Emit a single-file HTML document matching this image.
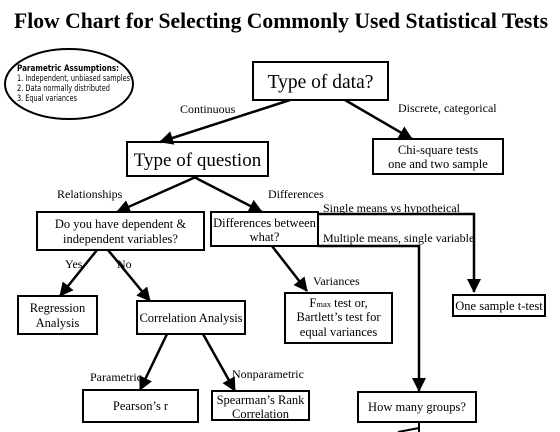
<!DOCTYPE html>
<html><head><meta charset="utf-8"><style>
html,body{margin:0;padding:0;background:#fff}
svg{display:block}
text{font-family:"Liberation Serif",serif;fill:#000}
.s{font-family:"DejaVu Sans","Liberation Sans",sans-serif}
</style></head><body>
<svg width="560" height="432" viewBox="0 0 560 432" xmlns="http://www.w3.org/2000/svg">
<defs><marker id="b" markerWidth="14" markerHeight="14" refX="13" refY="7" orient="auto" markerUnits="userSpaceOnUse" viewBox="0 0 14 14"><path d="M0,0 L14,7 L0,14 z" fill="#000"/></marker></defs>
<text x="14" y="28" font-size="22" font-weight="bold" textLength="534" lengthAdjust="spacingAndGlyphs">Flow Chart for Selecting Commonly Used Statistical Tests</text>
<ellipse cx="69" cy="84" rx="64" ry="35" fill="none" stroke="#000" stroke-width="2"/>
<text class="s" x="17" y="71" font-size="9" font-weight="bold" textLength="102" lengthAdjust="spacingAndGlyphs">Parametric Assumptions:</text>
<text class="s" x="17" y="81" font-size="9" textLength="113" lengthAdjust="spacingAndGlyphs">1. Independent, unbiased samples</text>
<text class="s" x="17" y="91" font-size="9" textLength="93" lengthAdjust="spacingAndGlyphs">2. Data normally distributed</text>
<text class="s" x="17" y="101" font-size="9" textLength="60" lengthAdjust="spacingAndGlyphs">3. Equal variances</text>
<g fill="none" stroke="#000" stroke-width="2">
<rect x="253" y="62" width="135" height="38"/>
<rect x="127" y="142" width="141" height="34"/>
<rect x="373" y="139" width="130" height="35"/>
<rect x="37" y="212" width="167" height="38"/>
<rect x="211" y="212" width="107" height="34"/>
<rect x="18" y="296" width="79" height="38"/>
<rect x="137" y="301" width="108" height="33"/>
<rect x="285" y="293" width="107" height="50"/>
<rect x="453" y="295" width="92" height="21"/>
<rect x="83" y="390" width="115" height="32"/>
<rect x="212" y="391" width="97" height="29"/>
<rect x="358" y="392" width="118" height="30"/>
</g>
<g stroke="#000" stroke-width="2.5" fill="none" marker-end="url(#b)">
<line x1="290" y1="100" x2="160" y2="142"/>
<line x1="345" y1="100" x2="412" y2="139"/>
<line x1="198" y1="176" x2="117" y2="212"/>
<line x1="192" y1="176" x2="262" y2="212"/>
<line x1="97" y1="250" x2="60" y2="296"/>
<line x1="108" y1="250" x2="150" y2="301"/>
<line x1="272" y1="246" x2="307" y2="291"/>
<line x1="167" y1="334" x2="140" y2="390"/>
<line x1="203" y1="334" x2="235" y2="391"/>
<polyline points="318,214 474,214 474,292"/>
<polyline points="318,246 419,246 419,391"/>
</g>
<g stroke="#000" stroke-width="2" fill="none">
<line x1="419" y1="422" x2="419" y2="432"/>
<line x1="398" y1="432" x2="419" y2="428"/>
</g>
<g font-size="12">
<text x="180" y="113">Continuous</text>
<text x="398" y="112">Discrete, categorical</text>
<text x="57" y="198">Relationships</text>
<text x="268" y="198">Differences</text>
<text x="323" y="212">Single means vs hypotheical</text>
<text x="323" y="242">Multiple means, single variable</text>
<text x="65" y="268">Yes</text>
<text x="117" y="268">No</text>
<text x="313" y="285">Variances</text>
<text x="90" y="381">Parametric</text>
<text x="232" y="378">Nonparametric</text>
</g>
<g text-anchor="middle" font-size="12.5">
<text x="320.5" y="88" font-size="19.5">Type of data?</text>
<text x="197.5" y="166" font-size="19">Type of question</text>
<text x="438" y="154">Chi-square  tests</text>
<text x="438" y="168">one and two sample</text>
<text x="120.5" y="228">Do you have dependent &amp;</text>
<text x="120.5" y="243">independent variables?</text>
<text x="264.5" y="227">Differences between</text>
<text x="264.5" y="241">what?</text>
<text x="57.5" y="312">Regression</text>
<text x="57.5" y="327">Analysis</text>
<text x="191" y="322">Correlation Analysis</text>
<text x="338.5" y="307">F<tspan font-size="8.5">max</tspan> test or,</text>
<text x="338.5" y="321">Bartlett’s test for</text>
<text x="338.5" y="336">equal  variances</text>
<text x="499" y="310">One sample t-test</text>
<text x="140.5" y="410">Pearson’s  r</text>
<text x="260.5" y="404">Spearman’s Rank</text>
<text x="260.5" y="418">Correlation</text>
<text x="417" y="411">How many groups?</text>
</g>
</svg>
</body></html>
